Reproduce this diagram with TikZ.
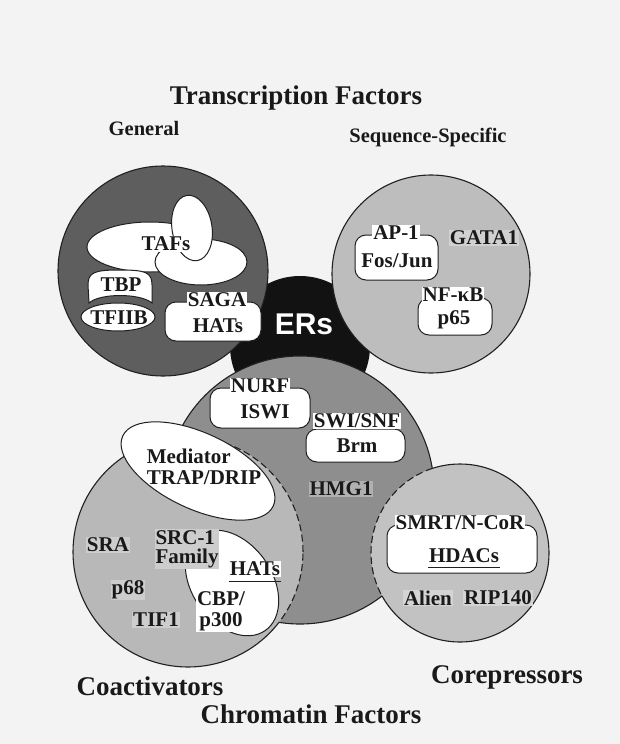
\documentclass[tikz,border=0pt]{standalone}
\usepackage{fontspec}
\setmainfont{Liberation Serif}
\setsansfont{Liberation Sans}
\definecolor{bgc}{HTML}{F3F3F3}
\definecolor{erc}{HTML}{121212}
\definecolor{genc}{HTML}{5E5E5E}
\definecolor{seqc}{HTML}{BDBDBD}
\definecolor{chrc}{HTML}{8E8E8E}
\definecolor{coac}{HTML}{B8B8B8}
\definecolor{corc}{HTML}{C2C2C2}
\definecolor{linec}{HTML}{202020}
\begin{document}
\begin{tikzpicture}[x=1pt,y=-1pt,
  lbl/.style={font=\fontsize{21}{23}\selectfont\bfseries, inner sep=1pt, text=black!90},
  twolbl/.style={lbl, font=\fontsize{21}{#1}\selectfont\bfseries},
  toplbl/.style={lbl, fill=white},
  freelbl/.style={lbl, fill=#1},
  wshape/.style={draw=linec, fill=white, line width=1pt},
  wbox/.style={wshape, rounded corners=11pt, inner sep=0pt},
  circ/.style={draw=linec, line width=1.1pt},
  dashcirc/.style={draw=linec, line width=1.1pt, dash pattern=on 7pt off 3.5pt},
  title/.style={font=\fontsize{27}{30}\selectfont\bfseries, inner sep=0pt, text=black!90},
  subtitle/.style={font=\fontsize{20.5}{23}\selectfont\bfseries, inner sep=0pt, text=black!90}]
\fill[bgc] (0,0) rectangle (620,744);
\useasboundingbox (0,0) rectangle (620,744);

% titles
\node[title] (ttf) at (296,98) {Transcription Factors};
\node[subtitle] (tgen) at (144,128) {General};
\node[subtitle] (tseq) at (428,137) {Sequence-Specific};
\node[title] (tcoa) at (150,686) {Coactivators};
\node[title] (tcor) at (507,677) {Corepressors};
\node[title] (tchr) at (311,714) {Chromatin Factors};

% ERs
\fill[erc] (300,346) circle[radius=70pt];
% general and sequence-specific circles
\filldraw[circ, fill=genc] (163,271) circle[radius=105pt];
\filldraw[circ, fill=seqc] (431,274) circle[radius=99pt];
\node[font=\sffamily\bfseries\fontsize{30}{32}\selectfont, text=white, inner sep=0pt] (ers) at (304,324) {ERs};

% chromatin circle
\filldraw[circ, fill=chrc] (300,490) circle[radius=134pt];
% coactivators and corepressors
\fill[coac] (188,552) circle[radius=115pt];
\fill[corc] (460,553) circle[radius=89pt];
\begin{scope}[even odd rule]
  \clip (0,0) rectangle (620,744) (300,490) circle[radius=134pt];
  \draw[circ] (188,552) circle[radius=115pt];
  \draw[circ] (460,553) circle[radius=89pt];
\end{scope}
\begin{scope}
  \clip (300,490) circle[radius=134pt];
  \draw[dashcirc] (188,552) circle[radius=115pt];
  \draw[dashcirc] (460,553) circle[radius=89pt];
\end{scope}

% general transcription factors
\filldraw[wshape] (150,247) ellipse[x radius=63pt, y radius=25pt];
\filldraw[wshape] (201,262) ellipse[x radius=46pt, y radius=23pt];
\filldraw[wshape, rotate around={9:(192,228)}] (192,228) ellipse[x radius=20pt, y radius=33pt];
\node[lbl, fill=white] (tafs) at (166,244) {TAFs};
\filldraw[wshape] (89,303) -- (88,285) .. controls (88,272) and (95,270) .. (120,270)
   .. controls (145,270) and (152,272) .. (152,285) -- (152,303)
   .. controls (140,293) and (100,293) .. (89,303) -- cycle;
\node[lbl] (tbp) at (121,285) {TBP};
\filldraw[wshape] (118,317) ellipse[x radius=37pt, y radius=14pt];
\node[lbl] (tfiib) at (119,318) {TFIIB};
\node[wbox, minimum width=96pt, minimum height=39pt] (sagabox) at (213,321.5) {};
\node[toplbl] (saga) at (217,300) {SAGA};
\node[lbl] (sagahats) at (218,326) {HATs};

% sequence-specific
\node[wbox, minimum width=83pt, minimum height=45pt] (apbox) at (396.5,257.5) {};
\node[toplbl] (ap1) at (396,233) {AP-1};
\node[lbl] (fosjun) at (397,261) {Fos/Jun};
\node[freelbl=seqc!70!white] (gata) at (484,238) {GATA1};
\node[wbox, minimum width=74pt, minimum height=37pt] (nfbox) at (455,316.5) {};
\node[toplbl] (nfkb) at (453,295) {NF-κB};
\node[lbl] (p65) at (454,320) {p65};

% chromatin factors
\node[wbox, minimum width=100pt, minimum height=40pt] (nurfbox) at (260,408) {};
\node[toplbl] (nurf) at (260,386) {NURF};
\node[lbl] (iswi) at (265,412) {ISWI};
\node[wbox, minimum width=99pt, minimum height=33pt] (swibox) at (355.5,445.5) {};
\node[toplbl] (swi) at (357,421) {SWI/SNF};
\node[lbl] (brm) at (357,446) {Brm};
\node[freelbl=chrc!70!white] (hmg) at (341,489) {HMG1};

% coactivators
\filldraw[wshape, rotate around={-25:(198,471)}] (198,471) ellipse[x radius=83pt, y radius=38pt];
\node[twolbl=21, align=left] (med) at (204,467) {Mediator\\TRAP/DRIP};
\filldraw[wshape, rotate around={-55:(232,583)}] (232,583) ellipse[x radius=58pt, y radius=40pt];
\node[twolbl=19, align=left, fill=coac!70!white] (src) at (187,549) {SRC-1\\Family};
\node[lbl, fill=white] (chats) at (255,569) {HATs};
\draw[line width=1pt, linec] ([yshift=-4pt]chats.south west) -- ([yshift=-4pt]chats.south east);
\node[twolbl=21, align=center, fill=white] (cbp) at (221,611) {CBP/\\p300};
\node[freelbl=coac!70!white] (sra) at (108,545) {SRA};
\node[freelbl=coac!70!white] (p68) at (128,590) {p68};
\node[freelbl=coac!70!white] (tif) at (156,620) {TIF1};

% corepressors
\node[wbox, minimum width=150pt, minimum height=48pt] (smrtbox) at (462,549) {};
\node[toplbl] (smrt) at (460,523) {SMRT/N-CoR};
\node[lbl] (hdac) at (464,556) {HDACs};
\draw[line width=1pt, linec] ([yshift=-3pt]hdac.south west) -- ([yshift=-3pt]hdac.south east);
\node[freelbl=corc!70!white] (alien) at (428,598) {Alien};
\node[freelbl=corc!70!white] (rip) at (498,598) {RIP140};
\end{tikzpicture}
\end{document}
